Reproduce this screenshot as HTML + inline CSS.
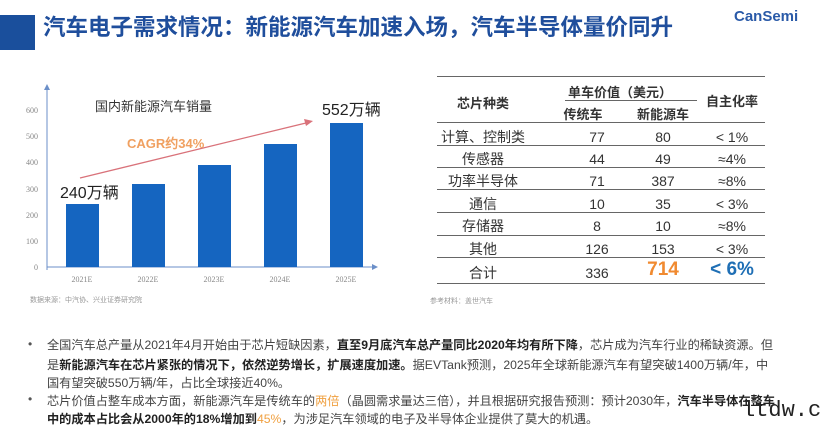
<!DOCTYPE html>
<html><head><meta charset="utf-8"><style>
body{margin:0;width:820px;height:435px;background:#fff;position:relative;overflow:hidden;font-family:"Liberation Sans","Noto Sans CJK SC",sans-serif;}
.a{position:absolute;white-space:nowrap;}
.t{position:absolute;left:437px;width:328px;height:0;border-top:1.5px solid #666;}
.c{position:absolute;transform:translateX(-50%);white-space:nowrap;font-size:14px;line-height:16px;color:#333;}
.tx{font-size:12.2px;line-height:14px;color:#444;left:47px;}
b{color:#222;}
</style></head><body>
<div class="a" style="left:0;top:15px;width:35px;height:35px;background:#1a4f9c"></div>
<div class="a" style="left:43px;top:16px;font-size:22.5px;line-height:24px;font-weight:bold;color:#1f4e9c">汽车电子需求情况：新能源汽车加速入场，汽车半导体量价同升</div>
<div class="a" style="left:734px;top:8px;font-size:15px;font-weight:bold;color:#2a5aa8">CanSemi</div>

<svg class="a" style="left:0;top:0" width="420" height="320">
<g font-family="Liberation Serif" font-size="8" fill="#888" text-anchor="end">
<text x="38" y="270">0</text><text x="38" y="244">100</text><text x="38" y="218">200</text><text x="38" y="192">300</text><text x="38" y="165">400</text><text x="38" y="139">500</text><text x="38" y="113">600</text>
</g>
<line x1="47" y1="86" x2="47" y2="270" stroke="#6b8fc8"/>
<line x1="47" y1="267" x2="375" y2="267" stroke="#6b8fc8"/>
<polygon points="47,84 44,90 50,90" fill="#6b8fc8"/>
<polygon points="378,267 372,264 372,270" fill="#6b8fc8"/>
<g fill="#1565c0">
<rect x="66" y="204" width="33" height="63"/>
<rect x="132" y="184" width="33" height="83"/>
<rect x="198" y="165" width="33" height="102"/>
<rect x="264" y="144" width="33" height="123"/>
<rect x="330" y="123" width="33" height="144"/>
</g>
<g font-family="Liberation Serif" font-size="8" fill="#888" text-anchor="middle">
<text x="82" y="282">2021E</text><text x="148" y="282">2022E</text><text x="214" y="282">2023E</text><text x="280" y="282">2024E</text><text x="346" y="282">2025E</text>
</g>
<line x1="80" y1="178" x2="310" y2="122" stroke="#d9727a" stroke-width="1.3"/>
<polygon points="313,121 304,119 306,126" fill="#d9727a"/>
<text x="127" y="148" font-size="13" font-weight="bold" fill="#f0a060" font-family="Liberation Sans">CAGR约34%</text>
<text x="95" y="111" font-size="13" fill="#333">国内新能源汽车销量</text>
<text x="60" y="198" font-size="16" fill="#222">240万辆</text>
<text x="322" y="115" font-size="16" fill="#222">552万辆</text>
<text x="30" y="302" font-size="7" fill="#999">数据来源：中汽协、兴业证券研究院</text>
</svg>

<div class="t" style="top:76px"></div>
<div class="c" style="left:483px;top:96px;font-weight:bold;font-size:13px">芯片种类</div>
<div class="c" style="left:620px;top:85px;font-weight:bold;font-size:13px">单车价值（美元）</div>
<div class="a" style="left:565px;top:100px;width:132px;border-top:1px solid #666"></div>
<div class="c" style="left:583px;top:107px;font-weight:bold;font-size:13px">传统车</div>
<div class="c" style="left:663px;top:107px;font-weight:bold;font-size:13px">新能源车</div>
<div class="c" style="left:732px;top:94px;font-weight:bold;font-size:13px">自主化率</div>
<div class="t" style="top:122px"></div>
<div class="t" style="top:145px"></div>
<div class="t" style="top:167px"></div>
<div class="t" style="top:189px"></div>
<div class="t" style="top:212px"></div>
<div class="t" style="top:235px"></div>
<div class="t" style="top:257px"></div>
<div class="t" style="top:283px"></div>
<div class="c" style="left:483px;top:129px">计算、控制类</div><div class="c" style="left:597px;top:129px">77</div><div class="c" style="left:663px;top:129px">80</div><div class="c" style="left:732px;top:129px">&lt; 1%</div>
<div class="c" style="left:483px;top:151px">传感器</div><div class="c" style="left:597px;top:151px">44</div><div class="c" style="left:663px;top:151px">49</div><div class="c" style="left:732px;top:151px">≈4%</div>
<div class="c" style="left:483px;top:173px">功率半导体</div><div class="c" style="left:597px;top:173px">71</div><div class="c" style="left:663px;top:173px">387</div><div class="c" style="left:732px;top:173px">≈8%</div>
<div class="c" style="left:483px;top:196px">通信</div><div class="c" style="left:597px;top:196px">10</div><div class="c" style="left:663px;top:196px">35</div><div class="c" style="left:732px;top:196px">&lt; 3%</div>
<div class="c" style="left:483px;top:218px">存储器</div><div class="c" style="left:597px;top:218px">8</div><div class="c" style="left:663px;top:218px">10</div><div class="c" style="left:732px;top:218px">≈8%</div>
<div class="c" style="left:483px;top:241px">其他</div><div class="c" style="left:597px;top:241px">126</div><div class="c" style="left:663px;top:241px">153</div><div class="c" style="left:732px;top:241px">&lt; 3%</div>
<div class="c" style="left:483px;top:265px">合计</div><div class="c" style="left:597px;top:265px">336</div><div class="c" style="left:663px;top:260px;font-size:19px;line-height:20px;font-weight:bold;color:#f08a30">714</div><div class="c" style="left:732px;top:260px;font-size:19px;line-height:20px;font-weight:bold;color:#1f6fb5">&lt; 6%</div>
<div class="a" style="left:430px;top:296px;font-size:7px;color:#999">参考材料：盖世汽车</div>

<div class="a" style="left:28px;top:337px;font-size:12px;color:#555">•</div>
<div class="a" style="left:28px;top:392px;font-size:12px;color:#555">•</div>
<div class="a tx" style="top:338px">全国汽车总产量从2021年4月开始由于芯片短缺因素，<b>直至9月底汽车总产量同比2020年均有所下降</b>，芯片成为汽车行业的稀缺资源。但</div>
<div class="a tx" style="top:358px">是<b>新能源汽车在芯片紧张的情况下，依然逆势增长，扩展速度加速。</b>据EVTank预测，2025年全球新能源汽车有望突破1400万辆/年，中</div>
<div class="a tx" style="top:376px">国有望突破550万辆/年，占比全球接近40%。</div>
<div class="a tx" style="top:394px">芯片价值占整车成本方面，新能源汽车是传统车的<span style="color:#f0a040">两倍</span>（晶圆需求量达三倍），并且根据研究报告预测：预计2030年，<b>汽车半导体在整车</b></div>
<div class="a tx" style="top:412px"><b>中的成本占比会从2000年的18%增加到</b><span style="color:#f0a040">45%</span>，为涉足汽车领域的电子及半导体企业提供了莫大的机遇。</div>
<div class="a" style="left:742px;top:398px;font-size:22px;font-family:'Liberation Mono';color:#222">ltdw.cr</div>
</body></html>
